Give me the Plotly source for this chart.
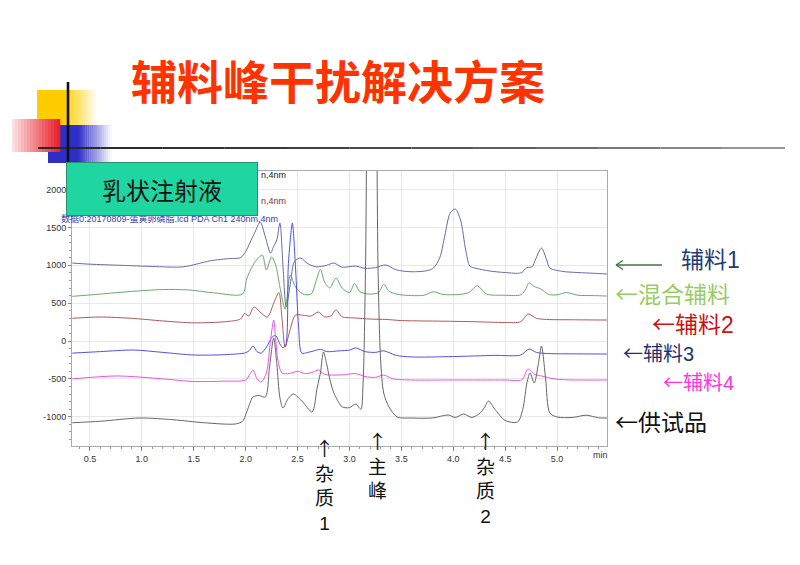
import plotly.graph_objects as go

W, H = 800, 565

# ---------------- data (time in min, signal in mAU) ----------------
t_fl1 = [0.33, 0.5, 0.8, 1.1, 1.4, 1.66, 1.85, 1.95, 2.0, 2.04, 2.09, 2.14, 2.19, 2.24, 2.27, 2.30, 2.33,
         2.36, 2.39, 2.43, 2.47, 2.53, 2.60, 2.68, 2.78, 2.85, 2.93, 3.06, 3.15, 3.25, 3.35, 3.45, 3.6,
         3.75, 3.81, 3.87, 3.92, 3.97, 4.02, 4.07, 4.12, 4.16, 4.22, 4.35, 4.5, 4.65, 4.71, 4.76, 4.79,
         4.85, 4.90, 4.93, 5.05, 5.2, 5.35, 5.48]
v_fl1 = [1030, 1015, 1000, 985, 980, 1060, 1090, 1100, 1180, 1295, 1440, 1572, 1374, 1162, 1250, 1335, 1560,
         980, 450, 750, 1050, 1096, 1020, 980, 1000, 1030, 975, 990, 960, 970, 1004, 940, 915,
         930, 965, 1100, 1400, 1690, 1744, 1600, 1200, 990, 960, 925, 905, 900, 970, 980, 1070,
         1228, 1070, 965, 920, 905, 895, 885]

t_mix = [0.33, 0.6, 0.9, 1.2, 1.45, 1.7, 1.97, 2.01, 2.05, 2.09, 2.16, 2.20, 2.25, 2.29, 2.33, 2.38, 2.43,
         2.48, 2.55, 2.63, 2.68, 2.72, 2.76, 2.81, 2.87, 2.93, 3.0, 3.05, 3.1, 3.2, 3.28, 3.33, 3.38, 3.45,
         3.6, 3.72, 3.81, 3.9, 4.05, 4.15, 4.23, 4.32, 4.5, 4.65, 4.70, 4.73, 4.78, 4.84, 4.92, 5.0, 5.09,
         5.2, 5.35, 5.48]
v_mix = [590, 620, 655, 680, 675, 635, 620, 820, 950, 1043, 1136, 938, 1110, 1000, 713, 420, 870,
         713, 620, 620, 800, 950, 780, 700, 830, 700, 640, 760, 650, 620, 640, 750, 660, 620,
         600, 605, 650, 615, 615, 640, 730, 620, 605, 610, 690, 770, 720, 690, 615, 610, 640,
         605, 600, 594]

t_fl2 = [0.33, 0.6, 0.9, 1.2, 1.5, 1.8, 1.95, 1.99, 2.03, 2.08, 2.14, 2.21, 2.27, 2.32, 2.35, 2.38, 2.42,
         2.48, 2.55, 2.63, 2.70, 2.76, 2.82, 2.87, 2.93, 3.05, 3.2, 3.35, 3.5, 3.7, 3.9, 4.2, 4.5, 4.65,
         4.72, 4.8, 4.9, 5.2, 5.48]
v_fl2 = [300, 317, 300, 265, 240, 255, 290, 365, 330, 449, 380, 317, 500, 640, 300, -80, 106,
         343, 340, 330, 383, 320, 330, 410, 320, 305, 290, 285, 270, 265, 262, 255, 245, 255,
         357, 300, 285, 280, 277]

t_fl3 = [0.33, 0.6, 0.92, 1.2, 1.5, 1.8, 2.0, 2.04, 2.07, 2.11, 2.15, 2.2, 2.26, 2.29, 2.33, 2.36, 2.385,
         2.41, 2.43, 2.45, 2.48, 2.51, 2.54, 2.6, 2.66, 2.72, 2.78, 2.9, 3.0, 3.06, 3.15, 3.25, 3.33,
         3.45, 3.6, 4.0, 4.4, 4.65, 4.73, 4.8, 4.9, 5.2, 5.48]
v_fl3 = [-160, -140, -119, -150, -185, -180, -155, -120, -66, -140, -160, -80, 60, 70, -40, -90, -60,
         980, 1335, 1560, 980, 185, -160, -150, -130, -110, -140, -130, -120, -92, -140, -150, -130,
         -190, -211, -205, -190, -185, -106, -150, -165, -170, -172]

t_fl4 = [0.33, 0.76, 1.2, 1.5, 1.8, 2.0, 2.04, 2.07, 2.11, 2.15, 2.2, 2.24, 2.27, 2.29, 2.31, 2.35, 2.42,
         2.5, 2.57, 2.65, 2.70, 2.76, 2.85, 2.95, 3.06, 3.15, 3.25, 3.33, 3.42, 3.6, 4.0, 4.5, 4.66,
         4.72, 4.78, 4.85, 5.0, 5.48]
v_fl4 = [-500, -462, -500, -535, -530, -515, -440, -383, -500, -541, -420, 13, 277, 13, -250, -423, -430,
         -400, -430, -410, -383, -440, -450, -445, -430, -470, -480, -450, -500, -515, -515, -515, -512,
         -370, -440, -462, -505, -515]

t_smp = [0.33, 0.6, 0.98, 1.3, 1.6, 1.9, 1.97, 2.02, 2.07, 2.13, 2.19, 2.23, 2.27, 2.30, 2.33, 2.36, 2.41,
         2.46, 2.55, 2.64, 2.69, 2.72, 2.75, 2.78, 2.81, 2.85, 2.93, 3.0, 3.06, 3.11, 3.13, 3.155, 3.175,
         3.215, 3.255, 3.275, 3.30, 3.33, 3.38, 3.46, 3.6, 3.8, 3.95, 4.02, 4.1, 4.18, 4.26, 4.30, 4.34,
         4.40, 4.5, 4.62, 4.67, 4.71, 4.74, 4.78, 4.82, 4.85, 4.89, 4.93, 5.0, 5.15, 5.28, 5.4, 5.48]
v_smp = [-1080, -1060, -1017, -1040, -1080, -1096, -1060, -900, -740, -720, -740, -343, 40, -300, -750, -885, -760,
         -700, -806, -938, -608, -423, -145, -300, -500, -687, -870, -880, -832, -900, -600, 1000, 4000,
         6000, 4000, 1000, -250, -687, -870, -1004, -1017, -1017, -977, -1010, -964, -1010, -950, -880, -793,
         -900, -1050, -1070, -900, -550, -423, -555, -300, -66, -500, -950, -1004, -1010, -980, -1015, -1017]

series_names = ["辅料1", "混合辅料", "辅料2", "辅料3", "辅料4", "供试品"]
series_t = [t_fl1, t_mix, t_fl2, t_fl3, t_fl4, t_smp]
series_v = [v_fl1, v_mix, v_fl2, v_fl3, v_fl4, v_smp]
series_colors = ["#6a6aa8", "#66aa66", "#b05858", "#5050e8", "#e855e8", "#666666"]

x_tickvals = [0.5, 1.0, 1.5, 2.0, 2.5, 3.0, 3.5, 4.0, 4.5, 5.0]
x_ticktext = ["0.5", "1.0", "1.5", "2.0", "2.5", "3.0", "3.5", "4.0", "4.5", "5.0"]
y_tickvals = [-1000, -500, 0, 500, 1000, 1500, 2000]
y_ticktext = ["-1000", "-500", "0", "500", "1000", "1500", "2000"]

peak_label_times = [2.76, 3.27, 4.31]
peak_label_words = [["杂", "质", "1"], ["主", "峰"], ["杂", "质", "2"]]

# ---------------- helpers ----------------
def px(x):
    return x / W

def py(y):
    return 1 - y / H

fig = go.Figure()
for name, tt, vv, col in zip(series_names, series_t, series_v, series_colors):
    fig.add_trace(go.Scatter(x=tt, y=vv, mode="lines", name=name,
                             line=dict(color=col, width=1, shape="spline", smoothing=0.8),
                             hoverinfo="skip"))

tickfont = dict(size=9, color="#333", family="Liberation Sans")
fig.update_layout(
    width=W, height=H, margin=dict(l=0, r=0, t=0, b=0),
    paper_bgcolor="white", plot_bgcolor="white", showlegend=False,
    xaxis=dict(domain=[px(72), px(607)], range=[0.327, 5.481],
               tickmode="array", tickvals=x_tickvals, ticktext=x_ticktext,
               ticks="outside", ticklen=4, tickcolor="#888", tickfont=tickfont,
               showline=True, linecolor="#aaa", linewidth=1, mirror=True,
               showgrid=True, gridcolor="#e8e8e8", gridwidth=1, zeroline=False,
               minor=dict(tickmode="linear", tick0=0, dtick=0.1, ticks="outside",
                          ticklen=2, tickcolor="#999", showgrid=False)),
    yaxis=dict(domain=[py(446), py(171)], range=[-1387, 2246],
               tickmode="array", tickvals=y_tickvals, ticktext=y_ticktext,
               ticks="outside", ticklen=3, tickcolor="#888", tickfont=tickfont,
               showline=True, linecolor="#aaa", linewidth=1, mirror=True,
               showgrid=True, gridcolor="#e8e8e8", gridwidth=1, zeroline=False,
               minor=dict(tickmode="linear", tick0=0, dtick=100, ticks="outside",
                          ticklen=2, tickcolor="#999", showgrid=False)),
)

# ---------------- decorative shapes ----------------
shapes = []

def grad_rect(x0, x1, y0, y1, c_start, c_end, solid_until=None, n=18):
    if solid_until is not None:
        shapes.append(dict(type="rect", xref="paper", yref="paper",
                           x0=px(x0), x1=px(solid_until), y0=py(y1), y1=py(y0),
                           fillcolor="rgb(%d,%d,%d)" % c_start, line=dict(width=0)))
        gx0 = solid_until
    else:
        gx0 = x0
    step = (x1 - gx0) / n
    for i in range(n):
        f = (i + 0.5) / n
        c = tuple(int(round(c_start[k] + (c_end[k] - c_start[k]) * f)) for k in range(3))
        shapes.append(dict(type="rect", xref="paper", yref="paper",
                           x0=px(gx0 + i * step), x1=px(gx0 + (i + 1) * step + 0.3),
                           y0=py(y1), y1=py(y0),
                           fillcolor="rgb(%d,%d,%d)" % c, line=dict(width=0)))

grad_rect(37, 98, 90, 125, (255, 204, 0), (255, 255, 255), solid_until=64)
grad_rect(48, 112, 125, 163, (45, 45, 200), (255, 255, 255), solid_until=78)
grad_rect(12, 60, 119, 152, (252, 228, 228), (232, 28, 38), n=16)

n_seg = 12
for i in range(n_seg):
    xa = 38 + i * (785 - 38) / n_seg
    xb = 38 + (i + 1) * (785 - 38) / n_seg
    g = int(40 + 110 * (i / (n_seg - 1)) ** 1.5)
    shapes.append(dict(type="line", xref="paper", yref="paper", x0=px(xa), x1=px(xb),
                       y0=py(148), y1=py(148), line=dict(color="rgb(%d,%d,%d)" % (g, g, g), width=2)))
shapes.append(dict(type="line", xref="paper", yref="paper", x0=px(68), x1=px(68),
                   y0=py(82), y1=py(163), line=dict(color="#111", width=2.6)))

# long green arrow beside 辅料1, drawn as lines
AG = "#3a7a3a"
shapes.append(dict(type="line", xref="paper", yref="paper", x0=px(616), x1=px(662),
                   y0=py(265), y1=py(265), line=dict(color=AG, width=1.3)))
shapes.append(dict(type="line", xref="paper", yref="paper", x0=px(616), x1=px(623),
                   y0=py(265), y1=py(260.5), line=dict(color=AG, width=1.3)))
shapes.append(dict(type="line", xref="paper", yref="paper", x0=px(616), x1=px(623),
                   y0=py(265), y1=py(269.5), line=dict(color=AG, width=1.3)))
fig.update_layout(shapes=shapes)

# ---------------- text ----------------
ann = []
CJK = "Noto Sans CJK SC"
MIX = "Liberation Sans, Noto Sans CJK SC"
ARROW = '<span style="font-family:Noto Sans CJK SC">%s</span>'

ann.append(dict(xref="paper", yref="paper", x=px(338), y=py(79), xanchor="center", yanchor="middle",
                text="<b>辅料峰干扰解决方案</b>", showarrow=False,
                font=dict(size=46, color="#ff3300", family=CJK)))

ann.append(dict(xref="paper", yref="paper", x=px(259), y=py(175), xanchor="left", yanchor="middle",
                text="n,4nm", showarrow=False, font=dict(size=9, color="#222", family=MIX)))
ann.append(dict(xref="paper", yref="paper", x=px(259), y=py(201), xanchor="left", yanchor="middle",
                text="n,4nm", showarrow=False, font=dict(size=9, color="#9a2a2a", family=MIX)))
ann.append(dict(xref="paper", yref="paper", x=px(280), y=py(218), xanchor="right", yanchor="middle",
                text="数据0:20170809-蛋黄卵磷脂.lcd PDA Ch1 240nm,4nm", showarrow=False,
                font=dict(size=9, color="#3a3aa8", family=MIX)))

ann.append(dict(xref="paper", yref="paper", x=px(600), y=py(455), xanchor="center", yanchor="middle",
                text="min", showarrow=False, font=tickfont))

ann.append(dict(xref="paper", yref="paper", x=px(66), y=py(162), xanchor="left", yanchor="top",
                text="乳状注射液", showarrow=False, width=190, height=52,
                bgcolor="#1fd6a0", bordercolor="#2b8f70", borderwidth=1, borderpad=0,
                align="center", valign="middle",
                font=dict(size=24, color="#111", family=CJK)))

# right-side series labels
right_labels = [
    ("辅料1", "#1f3a7a", 680, 260, 23),
    (ARROW % "←" + "混合辅料", "#99cc66", 614, 293, 23),
    (ARROW % "←" + "辅料2", "#cc1111", 651, 323, 23),
    (ARROW % "←" + "辅料3", "#1f3070", 622, 352, 20),
    (ARROW % "←" + "辅料4", "#ff33dd", 662, 381, 20),
    (ARROW % "←" + "供试品", "#111111", 614, 421, 23),
]
for txt, col, xx, yy, fs in right_labels:
    ann.append(dict(xref="paper", yref="paper", x=px(xx), y=py(yy), xanchor="left", yanchor="middle",
                    text=txt, showarrow=False, height=24, valign="middle", borderpad=0,
                    font=dict(size=fs, color=col, family=MIX)))

# peak labels under the axis, positioned in data (time) coordinates
peak_label_tops = [432, 425, 425]
for tt, words, top in zip(peak_label_times, peak_label_words, peak_label_tops):
    txt = "<br>".join([ARROW % "↑"] + words)
    ann.append(dict(xref="x", yref="paper", x=tt, y=py(top), xanchor="center", yanchor="top",
                    text=txt, showarrow=False, font=dict(size=19, color="#111", family=MIX)))

fig.update_layout(annotations=ann)
fig.write_html("out.html")
